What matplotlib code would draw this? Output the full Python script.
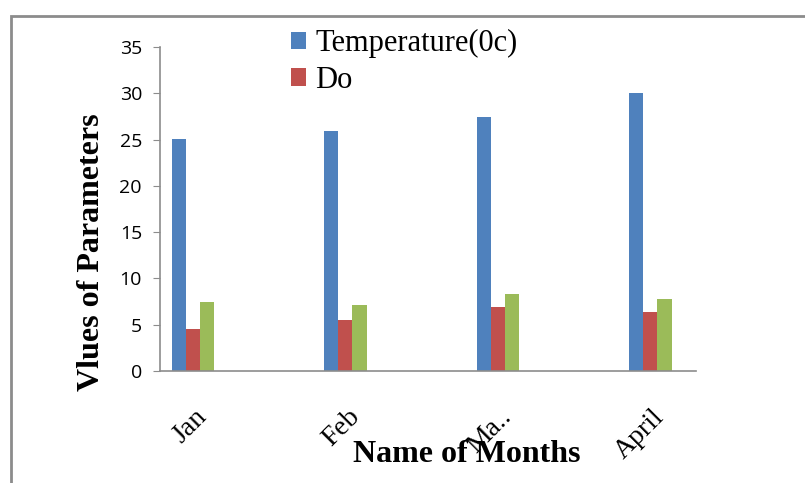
"""Excel-style clustered column chart: monthly parameter values."""
from __future__ import annotations

import matplotlib
matplotlib.use("Agg")
import matplotlib.pyplot as plt
import numpy as np
from matplotlib.patches import Rectangle

MONTHS = ["Jan", "Feb", "Ma..", "April"]
TEMPERATURE = [25.1, 25.9, 27.4, 30.0]
DO = [4.5, 5.5, 6.95, 6.4]
OTHER = [7.4, 7.1, 8.35, 7.8]  # third series, name cut off in the legend

BLUE, RED, GREEN = "#4F81BD", "#C0504D", "#9BBB59"
GREY = "#8c8c8c"
SERIF = ["Liberation Serif", "DejaVu Serif"]


def main():
    fig = plt.figure(figsize=(8.05, 4.83), dpi=100)
    ax = fig.add_axes([0.1988, 0.2319, 0.6658, 0.6708])

    x = np.arange(len(MONTHS))
    w = 0.0925
    b1 = ax.bar(x + 0.5 * w, TEMPERATURE, w, color=BLUE, label="Temperature(0c)")
    b2 = ax.bar(x + 1.5 * w, DO, w, color=RED, label="Do")
    ax.bar(x + 2.5 * w, OTHER, w, color=GREEN)

    ax.set_xlim(-0.077, 3.438)
    ax.set_ylim(0, 35)
    ax.set_yticks(np.arange(0, 36, 5))
    ax.tick_params(axis="y", direction="out", length=5, color=GREY, pad=8,
                   labelsize=14)
    for t in ax.get_yticklabels():
        t.set_family(["Open Sans", "DejaVu Sans"])
    ax.set_xticks(x + 1.6 * w)
    ax.set_xticklabels(MONTHS, rotation=45, ha="right", rotation_mode="anchor",
                       family=SERIF, fontsize=20)
    ax.tick_params(axis="x", length=0, pad=24)
    for s in ("top", "right"):
        ax.spines[s].set_visible(False)
    for s in ("left", "bottom"):
        ax.spines[s].set_color(GREY)
        ax.spines[s].set_linewidth(1.2)

    ax.set_ylabel("Vlues of Parameters", family=SERIF, fontsize=23,
                  fontweight="bold", va="center")
    ax.yaxis.set_label_coords(-0.128, 0.366)
    ax.set_xlabel("Name of Months", family=SERIF, fontsize=23,
                  fontweight="bold", va="center")
    ax.xaxis.set_label_coords(0.573, -0.259)

    ax.legend(handles=[b1, b2], loc="upper left", bbox_to_anchor=(0.3615, 0.94),
              bbox_transform=fig.transFigure, frameon=False, borderpad=0,
              borderaxespad=0, handlelength=0.5, handleheight=0.5,
              handletextpad=0.3, labelspacing=0.25,
              prop={"family": SERIF, "size": 22})

    # chart-area border (top and left edges visible in the crop)
    fig.patches.append(Rectangle((11 / 805, -0.2), 1.2, 1.2 - 16 / 483,
                                 transform=fig.transFigure, fill=False,
                                 edgecolor=GREY, lw=2, clip_on=False))

    fig.savefig("out.png", dpi=100)
    plt.close(fig)


if __name__ == "__main__":
    main()
